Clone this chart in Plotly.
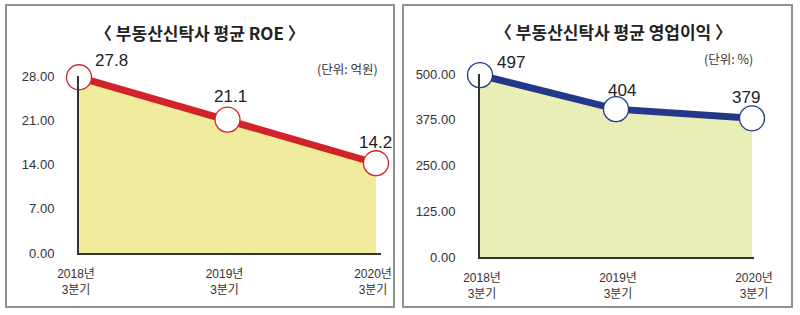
import plotly.graph_objects as go

# ---------------- data ----------------
categories = ["2018년<br>3분기", "2019년<br>3분기", "2020년<br>3분기"]
roe_values = [27.8, 21.1, 14.2]
op_values = [497, 404, 379]
roe_ticks = [0, 7, 14, 21, 28]
op_ticks = [0, 125, 250, 375, 500]
roe_title = "〈 부동산신탁사 평균 ROE 〉"
op_title = "〈 부동산신탁사 평균 영업이익 〉"
roe_unit = "(단위: 억원)"
op_unit = "(단위: %)"

# ---------------- styling / layout ----------------
W, H = 800, 315
FONT = "Liberation Sans, Noto Sans CJK KR, sans-serif"
KFONT = "Noto Sans CJK KR, sans-serif"

def px(x):
    return x / W

def py(y):
    return (H - y) / H

xpos = list(range(len(categories)))

# label offsets (pixels) relative to markers
roe_shift = [(32, 17), (3, 23), (-1, 21)]
op_shift = [(31, 13), (6, 19), (-6, 21)]

fig = go.Figure()

def add_panel(values, xa, ya, line_color, fill_color):
    fig.add_trace(go.Scatter(
        x=xpos, y=values, xaxis=xa, yaxis=ya, mode="none",
        fill="tozeroy", fillcolor=fill_color, hoverinfo="skip"))
    fig.add_trace(go.Scatter(
        x=xpos, y=values, xaxis=xa, yaxis=ya, mode="lines+markers",
        line=dict(color=line_color, width=7),
        marker=dict(size=25, color="white", line=dict(color=line_color, width=1.3)),
        cliponaxis=False, hoverinfo="skip"))

add_panel(roe_values, "x", "y", "#d2232a", "#f1eb9c")
add_panel(op_values, "x2", "y2", "#24388a", "#e8eeb6")

annotations = []
for i, v in enumerate(roe_values):
    annotations.append(dict(x=xpos[i], y=v, xref="x", yref="y", text=f"{v}",
                            showarrow=False, xanchor="center", yanchor="middle",
                            xshift=roe_shift[i][0], yshift=roe_shift[i][1],
                            font=dict(family=FONT, size=17, color="#222")))
for i, v in enumerate(op_values):
    annotations.append(dict(x=xpos[i], y=v, xref="x2", yref="y2", text=f"{v}",
                            showarrow=False, xanchor="center", yanchor="middle",
                            xshift=op_shift[i][0], yshift=op_shift[i][1],
                            font=dict(family=FONT, size=17, color="#222")))

def paper_text(x, y, text, size, color, weight=400):
    return dict(x=px(x), y=py(y), xref="paper", yref="paper", text=text, showarrow=False,
                xanchor="center", yanchor="middle",
                font=dict(family=KFONT, size=size, color=color, weight=weight))

annotations += [
    paper_text(200, 33, roe_title, 17, "#222", 700),
    paper_text(613, 32, op_title, 17, "#222", 700),
    paper_text(347, 68, roe_unit, 12.5, "#333"),
    paper_text(728, 58, op_unit, 12.5, "#333"),
]

shapes = [
    dict(type="rect", xref="paper", yref="paper", x0=px(6), x1=px(394), y0=py(307), y1=py(5),
         line=dict(color="#909090", width=2)),
    dict(type="rect", xref="paper", yref="paper", x0=px(403), x1=px(792), y0=py(307), y1=py(5),
         line=dict(color="#909090", width=2)),
]

xcommon = dict(tickmode="array", tickvals=xpos, ticktext=categories, showgrid=False,
               zeroline=False, showline=True, linecolor="#333", linewidth=2, ticks="",
               ticklabelstandoff=9, tickfont=dict(family=FONT, size=12, color="#333"),
               fixedrange=True, automargin=False)
ycommon = dict(showgrid=False, zeroline=False, showline=True, linecolor="#333", linewidth=2,
               ticks="", ticklabelstandoff=20, tickfont=dict(family=FONT, size=13, color="#333"),
               tickformat=".2f", tickmode="array", fixedrange=True, automargin=False)

fig.update_layout(
    width=W, height=H, margin=dict(l=0, r=0, t=0, b=0, pad=0, autoexpand=False),
    paper_bgcolor="white", plot_bgcolor="rgba(0,0,0,0)", showlegend=False,
    xaxis=dict(domain=[px(79), px(381)], range=[0, 2 * (381 - 79) / (376 - 79)], anchor="y",
               ticklabelshift=-3, **xcommon),
    yaxis=dict(domain=[py(253), py(76)], range=[0, 28], tickvals=roe_ticks, anchor="x", **ycommon),
    xaxis2=dict(domain=[px(480), px(754)], range=[0, 2 * (754 - 480) / (752 - 480)], anchor="y2",
                ticklabelshift=2, **xcommon),
    yaxis2=dict(domain=[py(257), py(74)], range=[0, 500], tickvals=op_ticks, anchor="x2", **ycommon),
    annotations=annotations, shapes=shapes,
)

fig.write_html("out.html")
